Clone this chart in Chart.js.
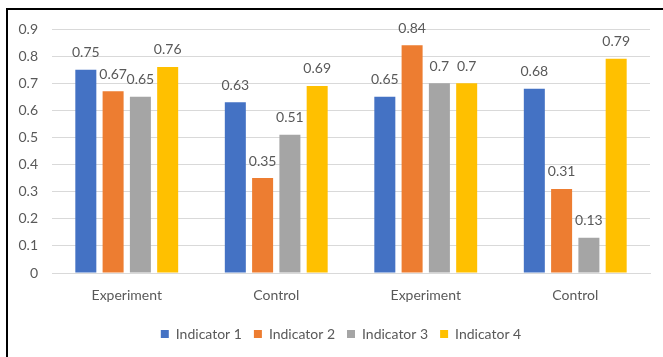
<!DOCTYPE html>
<html>
<head>
<meta charset="utf-8">
<script src="https://cdn.jsdelivr.net/npm/chart.js@4.4.1/dist/chart.umd.min.js"></script>
<style>
  html, body { margin: 0; padding: 0; background: #fff; overflow: hidden; }
  #wrap { position: relative; width: 663px; height: 357px; }
  #frame { position: absolute; left: 6px; top: 8px; width: 700px; height: 400px;
           border-left: 2px solid #000; border-top: 2px solid #000; box-sizing: border-box; }
  canvas { position: absolute; left: 0; top: 0; }
</style>
</head>
<body>
<div id="wrap">
  <div id="frame"></div>
  <canvas id="chart" width="663" height="357"></canvas>
</div>
<script>
// Groups along the x axis
const categories = ['Experiment', 'Control', 'Experiment', 'Control'];

// One series per indicator
const seriesNames = ['Indicator 1', 'Indicator 2', 'Indicator 3', 'Indicator 4'];
const indicator1 = [0.75, 0.63, 0.65, 0.68];
const indicator2 = [0.67, 0.35, 0.84, 0.31];
const indicator3 = [0.65, 0.51, 0.70, 0.13];
const indicator4 = [0.76, 0.69, 0.70, 0.79];

// Value axis ticks
const yTicks = [0, 0.1, 0.2, 0.3, 0.4, 0.5, 0.6, 0.7, 0.8, 0.9];

const colors = ['#4472C4', '#ED7D31', '#A5A5A5', '#FFC000'];
const textColor = '#595959';
const fontFamily = 'Lato, "Open Sans", sans-serif';

Chart.defaults.font.family = fontFamily;
Chart.defaults.color = textColor;

// Writes each bar's value just above its top
const barValueLabels = {
  id: 'barValueLabels',
  afterDatasetsDraw(chart) {
    const ctx = chart.ctx;
    ctx.save();
    ctx.font = '14px ' + fontFamily;
    ctx.fillStyle = textColor;
    ctx.textAlign = 'center';
    ctx.textBaseline = 'middle';
    chart.data.datasets.forEach((ds, i) => {
      chart.getDatasetMeta(i).data.forEach((bar, j) => {
        ctx.fillText(String(ds.data[j]), bar.x, bar.y - 17);
      });
    });
    ctx.restore();
  }
};

// Nudges the legend row to the right of the default centred spot
const legendOffset = {
  id: 'legendOffset',
  afterLayout(chart) {
    if (chart.legend) {
      chart.legend.left += 16;
      chart.legend.right += 16;
    }
  }
};

const seriesData = [indicator1, indicator2, indicator3, indicator4];

new Chart(document.getElementById('chart'), {
  type: 'bar',
  data: {
    labels: categories,
    datasets: seriesNames.map((name, i) => ({
      label: name,
      data: seriesData[i],
      backgroundColor: colors[i],
      borderWidth: 0,
      categoryPercentage: 0.73,
      barPercentage: 0.77
    }))
  },
  options: {
    responsive: false,
    animation: false,
    devicePixelRatio: 1,
    layout: { padding: { top: 29, right: 13, left: 0, bottom: 6 } },
    scales: {
      x: {
        grid: { display: false, drawTicks: false },
        border: { color: '#d9d9d9', width: 1 },
        ticks: { font: { size: 14 }, color: textColor, padding: 14 },
        afterFit(axis) { axis.height = 42; }
      },
      y: {
        min: 0,
        max: 0.9,
        afterBuildTicks(axis) { axis.ticks = yTicks.map(v => ({ value: v })); },
        grid: { color: '#d9d9d9', lineWidth: 1, drawTicks: false },
        border: { display: false },
        ticks: {
          font: { size: 14 }, color: textColor, padding: 14,
          callback: v => String(v)
        },
        afterFit(axis) { axis.width = 52; }
      }
    },
    plugins: {
      legend: {
        position: 'bottom',
        labels: {
          boxWidth: 8, boxHeight: 8, padding: 12,
          font: { size: 14 }, color: textColor
        }
      },
      tooltip: { enabled: false }
    }
  },
  plugins: [barValueLabels, legendOffset]
});
</script>
</body>
</html>
